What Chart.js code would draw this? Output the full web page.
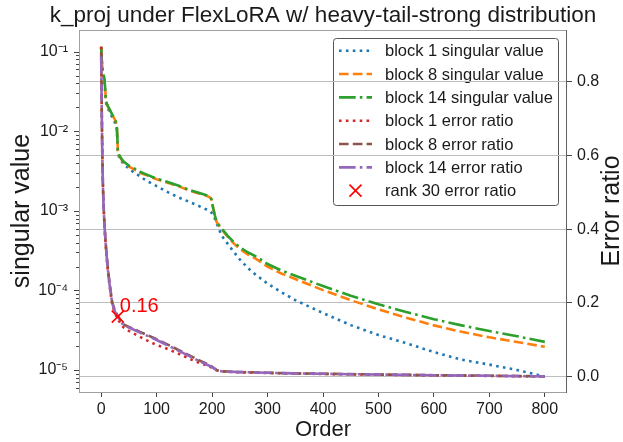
<!DOCTYPE html>
<html><head><meta charset="utf-8">
<script src="https://cdn.jsdelivr.net/npm/chart.js@4.4.0/dist/chart.umd.min.js"></script>
<style>html,body{margin:0;padding:0;background:#fff;}canvas{display:block;}</style>
</head><body>
<canvas id="c" width="623" height="442"></canvas>
<script>
// ---------------- data ----------------
const orders = [0,1,2,3,4,5,6,7,8,9,10,12,15,20,25,28,29,30,32,35,40,50,60,70,80,100,120,140,160,180,190,196,199,202,205,208,212,216,220,230,240,250,265,280,300,325,350,400,450,500,550,600,650,700,750,800];

const svBlock1 = [0.113,0.076,0.062,0.053,0.049,0.047,0.042,0.033,0.026,0.0225,0.0210,0.0195,0.0177,0.0149,0.0128,0.0113,0.0080,0.0054,0.0048,0.0044,0.0039,0.0034,0.0030,0.00273,0.00243,0.00205,0.00172,0.00147,0.00129,0.00112,0.00104,0.00099,0.00095,0.00089,0.00080,0.00070,0.00060,0.00051,0.00046,0.00037,0.00030,0.000245,0.000190,0.000155,0.000122,0.000095,0.0000757,0.0000520,0.0000367,0.0000275,0.0000218,0.0000168,0.0000135,0.0000117,0.0000100,0.0000083];

const svBlock8 = [0.112,0.078,0.064,0.055,0.051,0.048,0.044,0.035,0.028,0.024,0.0222,0.0206,0.0188,0.0160,0.0139,0.0122,0.0087,0.0057,0.0050,0.0046,0.0041,0.0036,0.0033,0.0030,0.00285,0.00250,0.00226,0.00203,0.00179,0.00162,0.00155,0.00148,0.00138,0.00107,0.00087,0.00073,0.00066,0.00060,0.000555,0.000455,0.000385,0.000333,0.000282,0.000248,0.000199,0.000163,0.000139,0.000101,0.0000755,0.0000580,0.0000455,0.0000364,0.0000302,0.0000258,0.0000225,0.0000196];

const svBlock14 = [0.115,0.080,0.065,0.056,0.051,0.049,0.045,0.036,0.028,0.024,0.0224,0.0208,0.0190,0.0162,0.0140,0.0123,0.0088,0.0058,0.0051,0.0047,0.0042,0.0037,0.0034,0.0031,0.00290,0.00254,0.00230,0.00207,0.00182,0.00165,0.00157,0.00150,0.00140,0.00108,0.00088,0.00074,0.00067,0.00061,0.00057,0.00047,0.00040,0.00035,0.000300,0.000266,0.000215,0.000178,0.000153,0.0001135,0.000086,0.000067,0.0000535,0.0000436,0.0000364,0.0000309,0.0000266,0.0000226];

const errBlock1 = [0.895,0.73,0.607,0.527,0.476,0.44,0.408,0.382,0.36,0.34,0.321,0.288,0.247,0.195,0.172,0.163,0.16,0.157,0.151,0.144,0.134,0.124,0.116,0.108,0.1,0.086,0.075,0.062,0.048,0.036,0.031,0.027,0.025,0.022,0.0195,0.0172,0.0155,0.0145,0.014,0.013,0.0125,0.012,0.0114,0.0107,0.01,0.0092,0.0086,0.0074,0.0064,0.0055,0.0046,0.0038,0.003,0.0022,0.0014,0.0006];

const errBlock8 = [0.88,0.725,0.605,0.528,0.478,0.443,0.413,0.388,0.366,0.346,0.328,0.295,0.255,0.201,0.179,0.17,0.167,0.165,0.16,0.153,0.142,0.135,0.1285,0.1215,0.115,0.1015,0.087,0.072,0.057,0.042,0.035,0.031,0.028,0.025,0.0215,0.0185,0.0163,0.0152,0.0147,0.0137,0.0131,0.0126,0.0121,0.0113,0.0106,0.0098,0.0091,0.0079,0.0069,0.0059,0.005,0.0041,0.0033,0.0025,0.0017,0.0009];

const errBlock14 = [0.868,0.72,0.60,0.525,0.475,0.44,0.41,0.385,0.363,0.343,0.325,0.292,0.252,0.198,0.176,0.167,0.165,0.163,0.158,0.151,0.140,0.133,0.1265,0.1195,0.113,0.0995,0.085,0.070,0.055,0.040,0.033,0.029,0.027,0.024,0.021,0.018,0.016,0.015,0.0145,0.0135,0.013,0.0125,0.012,0.0112,0.0105,0.0097,0.009,0.0078,0.0068,0.0058,0.0049,0.004,0.0032,0.0024,0.0016,0.0008];

const rankOrder = [30];
const rankRatio = [0.163];

const seriesLabels = ['block 1 singular value','block 8 singular value','block 14 singular value','block 1 error ratio','block 8 error ratio','block 14 error ratio','rank 30 error ratio'];
const xTickValues = [0,100,200,300,400,500,600,700,800];
const rightTickValues = [0,0.2,0.4,0.6,0.8];
const leftDecades = [-5,-4,-3,-2,-1];

// ---------------- styling ----------------
const FONT = '"Liberation Sans", Arial, Helvetica, sans-serif';
const TEXT = '#1a1a1a';
const SPINE_L = '#a0a0a0';
const SPINE_R = '#606060';
const TICK = '#444444';
const GRID = '#bdbdbd';
const LW = 2.6;
const DOT = [LW, 1.65*LW], DASH = [3.7*LW, 1.6*LW], DASHDOT = [6.4*LW, 1.6*LW, LW, 1.6*LW];
Chart.defaults.font.family = FONT;
Chart.defaults.color = TEXT;

const pts = vals => orders.map((x, i) => ({x, y: vals[i]}));
const lineDs = (label, vals, color, dash, axis, order) => ({
  label, data: pts(vals), borderColor: color, backgroundColor: color, borderDash: dash,
  borderWidth: LW, pointRadius: 0, tension: 0, fill: false, yAxisID: axis, order,
  borderCapStyle: 'butt', borderJoinStyle: 'round'
});

const datasets = [
  lineDs(seriesLabels[0], svBlock1, '#1f77b4', DOT, 'y', 6),
  lineDs(seriesLabels[1], svBlock8, '#ff7f0e', DASH, 'y', 5),
  lineDs(seriesLabels[2], svBlock14, '#2ca02c', DASHDOT, 'y', 4),
  lineDs(seriesLabels[3], errBlock1, '#d62728', DOT, 'y2', 3),
  lineDs(seriesLabels[4], errBlock8, '#8c564b', DASH, 'y2', 2),
  lineDs(seriesLabels[5], errBlock14, '#9467bd', DASHDOT, 'y2', 1),
  {label: seriesLabels[6], data: rankOrder.map((x, i) => ({x, y: rankRatio[i]})), showLine: false,
   pointStyle: 'crossRot', pointRadius: 8.5, pointBorderWidth: 1.6, pointBorderColor: '#ff0000',
   borderColor: '#ff0000', backgroundColor: '#ff0000', yAxisID: 'y2', order: 0, isMarker: true}
];

const SUP = {'-':'\u207B','0':'\u2070','1':'\u00B9','2':'\u00B2','3':'\u00B3','4':'\u2074','5':'\u2075'};
const isDecade = v => { const e = Math.round(Math.log10(v)); return Math.abs(v / Math.pow(10, e) - 1) < 1e-6; };

function drawCross(ctx, cx, cy, r, color, w) {
  const d = r * Math.SQRT1_2;
  ctx.save(); ctx.setLineDash([]); ctx.strokeStyle = color; ctx.lineWidth = w;
  ctx.beginPath(); ctx.moveTo(cx - d, cy - d); ctx.lineTo(cx + d, cy + d);
  ctx.moveTo(cx - d, cy + d); ctx.lineTo(cx + d, cy - d); ctx.stroke(); ctx.restore();
}

const legendPlugin = {
  id: 'mplLegend',
  beforeDraw(chart) {
    const ctx = chart.ctx, a = chart.chartArea;
    const right = a.right - 8, top = a.top + 8, w = 226, h = 168, left = right - w;
    ctx.save();
    ctx.fillStyle = '#ffffff'; ctx.strokeStyle = '#555555'; ctx.lineWidth = 1;
    const r = 3, x0 = left + 0.5, y0 = top + 0.5, x1 = right - 0.5, y1 = top + h - 0.5;
    ctx.beginPath();
    ctx.moveTo(x0 + r, y0); ctx.lineTo(x1 - r, y0); ctx.arcTo(x1, y0, x1, y0 + r, r);
    ctx.lineTo(x1, y1 - r); ctx.arcTo(x1, y1, x1 - r, y1, r); ctx.lineTo(x0 + r, y1);
    ctx.arcTo(x0, y1, x0, y1 - r, r); ctx.lineTo(x0, y0 + r); ctx.arcTo(x0, y0, x0 + r, y0, r);
    ctx.closePath(); ctx.fill(); ctx.stroke();
    ctx.font = '16.5px ' + FONT; ctx.textAlign = 'left'; ctx.textBaseline = 'middle'; ctx.fillStyle = TEXT;
    chart.data.datasets.forEach((ds, i) => {
      const cy = top + 12.7 + i * 23.33;
      const hx0 = left + 6, hx1 = left + 39;
      if (ds.isMarker) {
        drawCross(ctx, (hx0 + hx1) / 2, cy, 8.5, ds.pointBorderColor, ds.pointBorderWidth);
      } else {
        ctx.save(); ctx.strokeStyle = ds.borderColor; ctx.lineWidth = ds.borderWidth;
        ctx.setLineDash(ds.borderDash); ctx.lineCap = 'butt';
        ctx.beginPath(); ctx.moveTo(hx0, cy); ctx.lineTo(hx1, cy); ctx.stroke(); ctx.restore();
      }
      ctx.fillText(ds.label, left + 52, cy + 1);
    });
    ctx.restore();
  }
};

const framePlugin = {
  id: 'frame',
  afterDatasetsDraw(chart) {
    const ctx = chart.ctx, a = chart.chartArea;
    ctx.save();
    ctx.setLineDash([]); ctx.lineWidth = 1;
    const ys = chart.scales.y;
    ctx.strokeStyle = TICK;
    ys.ticks.forEach(t => {
      const p = Math.round(ys.getPixelForValue(t.value)) + 0.5;
      const len = isDecade(t.value) ? 5 : 3;
      ctx.beginPath(); ctx.moveTo(a.left - len, p); ctx.lineTo(a.left, p); ctx.stroke();
    });
    ctx.strokeStyle = SPINE_L;
    ctx.beginPath();
    ctx.moveTo(a.left + 0.5, a.top); ctx.lineTo(a.left + 0.5, a.bottom + 1);
    ctx.moveTo(a.left, a.top + 0.5); ctx.lineTo(a.right, a.top + 0.5);
    ctx.moveTo(a.left, a.bottom + 0.5); ctx.lineTo(a.right, a.bottom + 0.5);
    ctx.stroke();
    ctx.strokeStyle = SPINE_R;
    ctx.beginPath(); ctx.moveTo(a.right - 0.5, a.top); ctx.lineTo(a.right - 0.5, a.bottom + 1); ctx.stroke();
    // annotation text for the rank-30 marker
    const xs = chart.scales.x, y2 = chart.scales.y2;
    const px = xs.getPixelForValue(rankOrder[0]), py = y2.getPixelForValue(rankRatio[0]);
    ctx.fillStyle = '#ff0000'; ctx.font = '20px ' + FONT; ctx.textAlign = 'left'; ctx.textBaseline = 'alphabetic';
    ctx.fillText(rankRatio[0].toFixed(2), px + 2, py - 5);
    // right axis title (reads bottom-to-top)
    ctx.fillStyle = TEXT; ctx.font = '25px ' + FONT; ctx.textAlign = 'center'; ctx.textBaseline = 'middle';
    ctx.translate(612, (a.top + a.bottom) / 2); ctx.rotate(-Math.PI / 2);
    ctx.fillText('Error ratio', 0, 0);
    ctx.restore();
  }
};

new Chart(document.getElementById('c'), {
  type: 'line',
  data: {datasets},
  options: {
    responsive: false, animation: false, events: [],
    layout: {padding: {left: 23, right: 0, top: 0, bottom: 0}},
    plugins: {
      legend: {display: false}, tooltip: {enabled: false},
      title: {display: true, text: 'k_proj under FlexLoRA w/ heavy-tail-strong distribution',
              fullSize: true, color: TEXT, font: {size: 22.5, weight: 'normal'}, padding: {top: 1.8, bottom: 1.2}}
    },
    scales: {
      x: {
        type: 'linear', position: 'bottom', min: -40, max: 840,
        afterBuildTicks: s => { s.ticks = xTickValues.map(v => ({value: v})); },
        ticks: {autoSkip: false, maxRotation: 0, padding: 3, font: {size: 16}, color: TEXT, callback: v => String(v)},
        grid: {display: true, drawOnChartArea: false, drawTicks: true, tickLength: 5, tickColor: TICK, tickWidth: 1},
        border: {display: false},
        title: {display: true, text: 'Order', font: {size: 22}, color: TEXT, padding: {top: 0, bottom: -1}},
        afterFit: s => { s.height = 50; }
      },
      y: {
        type: 'logarithmic', position: 'left', min: Math.pow(10, -5.276), max: Math.pow(10, -0.727),
        afterBuildTicks: s => {
          const t = [];
          for (let e = -6; e <= -1; e++) for (let m = 1; m <= 9; m++) {
            const v = m * Math.pow(10, e);
            if (v >= s.min && v <= s.max) t.push({value: v, major: m === 1});
          }
          s.ticks = t;
        },
        ticks: {autoSkip: false, padding: 11, font: {size: 16}, color: TEXT,
          callback: v => {
            if (!isDecade(v)) return '';
            const e = Math.round(Math.log10(v));
            if (!leftDecades.includes(e)) return '';
            return '10' + String(e).split('').map(c => SUP[c]).join('');
          }},
        grid: {display: false, drawTicks: false},
        border: {display: false},
        title: {display: true, text: 'singular value', font: {size: 25}, color: TEXT, padding: {top: -16, bottom: 0}},
        afterFit: s => { s.width = 56; }
      },
      y2: {
        type: 'linear', position: 'right', min: -0.0415, max: 0.94,
        afterBuildTicks: s => { s.ticks = rightTickValues.map(v => ({value: v})); },
        ticks: {autoSkip: false, padding: 5, font: {size: 16}, color: TEXT, callback: v => v.toFixed(1)},
        grid: {display: true, drawOnChartArea: true, color: GRID, lineWidth: 1, drawTicks: true, tickLength: 5, tickColor: TICK, tickWidth: 1},
        border: {display: false},
        afterFit: s => { s.width = 56; }
      }
    }
  },
  plugins: [legendPlugin, framePlugin]
});
</script>
</body></html>
